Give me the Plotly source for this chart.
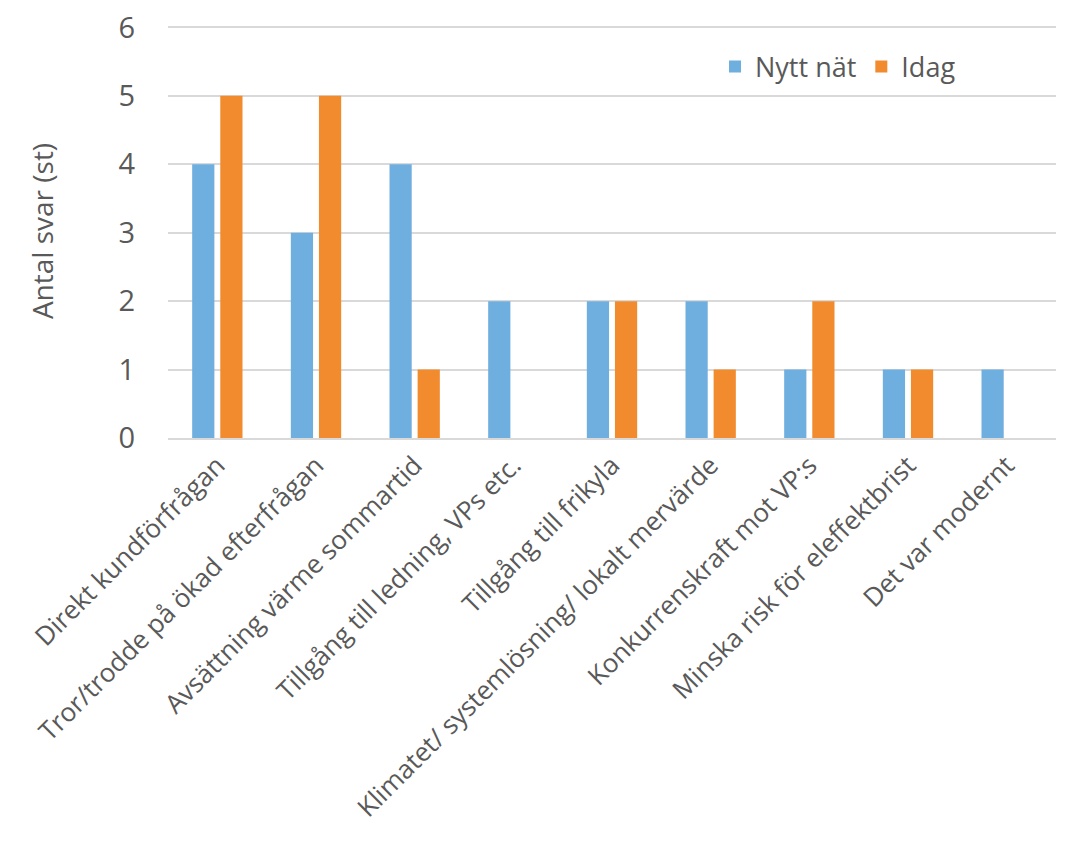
import plotly.graph_objects as go

categories = [
    "Direkt kundförfrågan",
    "Tror/trodde på ökad efterfrågan",
    "Avsättning värme sommartid",
    "Tillgång till ledning, VPs etc.",
    "Tillgång till frikyla",
    "Klimatet/ systemlösning/ lokalt mervärde",
    "Konkurrenskraft mot VP:s",
    "Minska risk för eleffektbrist",
    "Det var modernt",
]
nytt_nat = [4, 3, 4, 2, 2, 2, 1, 1, 1]
idag = [5, 5, 1, 0, 2, 1, 2, 1, 0]
y_ticks = [0, 1, 2, 3, 4, 5, 6]

FONT = "Open Sans, Segoe UI, sans-serif"
GRAY = "#595959"

fig = go.Figure()
fig.add_trace(go.Bar(name="Nytt nät", x=categories, y=nytt_nat,
                     marker=dict(color="#6FAFDF", line=dict(width=0))))
fig.add_trace(go.Bar(name="Idag", x=categories, y=idag,
                     marker=dict(color="#F18B2E", line=dict(width=0))))

fig.update_layout(
    width=1068, height=857,
    margin=dict(l=168, r=12, t=24, b=419),
    paper_bgcolor="white", plot_bgcolor="white",
    barmode="group", bargap=0.43, bargroupgap=0.21,
    font=dict(family=FONT, color=GRAY, size=26),
    legend=dict(orientation="h", x=0.616, y=0.896, xanchor="left", yanchor="middle",
                font=dict(size=27, color=GRAY), bgcolor="rgba(0,0,0,0)",
                itemwidth=30, traceorder="normal"),
    xaxis=dict(tickangle=-45, tickfont=dict(size=26, color=GRAY),
               showline=True, linecolor="#D9D9D9", linewidth=1.5,
               ticks="", showgrid=False, automargin=False),
    yaxis=dict(range=[0, 6.05], tickvals=y_ticks, showgrid=True, gridcolor="#D9D9D9",
               gridwidth=1.5, zeroline=False, tickfont=dict(size=29, color=GRAY),
               ticks="outside", ticklen=26, tickcolor="rgba(0,0,0,0)", automargin=False,
               title=dict(text="Antal svar (st)", font=dict(size=28, color=GRAY), standoff=56)),
)

fig.write_html("out.html")
